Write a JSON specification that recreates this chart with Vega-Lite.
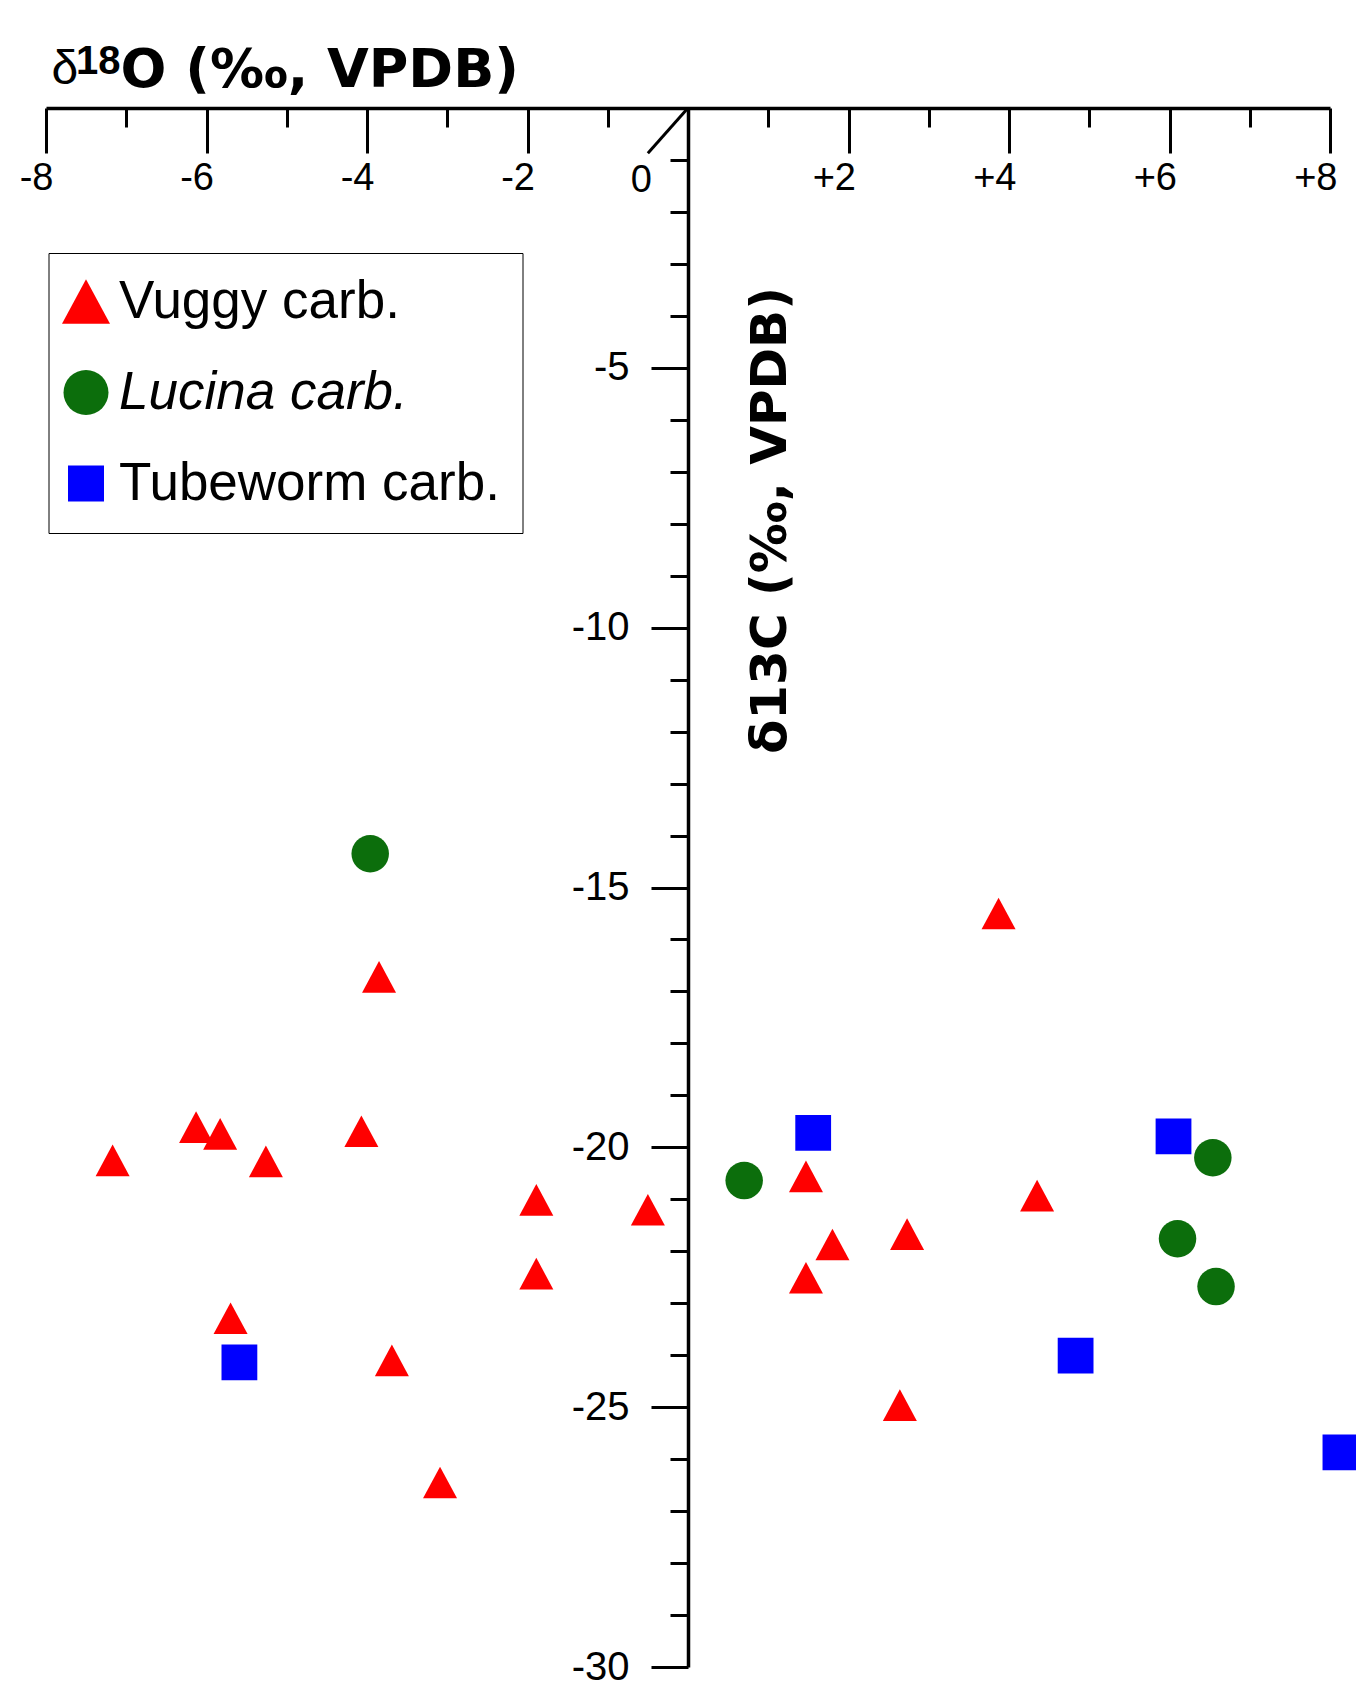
{
  "$schema": "https://vega.github.io/schema/vega-lite/v6.json",
  "width": 1284,
  "height": 1559,
  "autosize": {"type": "none"},
  "padding": {"left": 46, "top": 108, "right": 26, "bottom": 24},
  "background": "white",
  "config": {
    "view": {"stroke": null},
    "axis": {"grid": false, "domainColor": "black", "tickColor": "black", "labelColor": "black", "titleColor": "black", "tickWidth": 3, "domainWidth": 3.5, "labelFlush": false, "labelOverlap": false}
  },
  "data": {
    "values": [
      {"x": -7.17, "y": -20.25, "group": "Vuggy carb."},
      {"x": -6.13, "y": -19.61, "group": "Vuggy carb."},
      {"x": -5.83, "y": -19.74, "group": "Vuggy carb."},
      {"x": -5.26, "y": -20.27, "group": "Vuggy carb."},
      {"x": -4.07, "y": -19.69, "group": "Vuggy carb."},
      {"x": -3.85, "y": -16.72, "group": "Vuggy carb."},
      {"x": -1.89, "y": -21.01, "group": "Vuggy carb."},
      {"x": -1.89, "y": -22.43, "group": "Vuggy carb."},
      {"x": -0.50, "y": -21.20, "group": "Vuggy carb."},
      {"x": -5.70, "y": -23.29, "group": "Vuggy carb."},
      {"x": -3.69, "y": -24.10, "group": "Vuggy carb."},
      {"x": -3.09, "y": -26.45, "group": "Vuggy carb."},
      {"x": 3.87, "y": -15.50, "group": "Vuggy carb."},
      {"x": 1.47, "y": -20.56, "group": "Vuggy carb."},
      {"x": 1.80, "y": -21.87, "group": "Vuggy carb."},
      {"x": 1.47, "y": -22.51, "group": "Vuggy carb."},
      {"x": 2.73, "y": -21.67, "group": "Vuggy carb."},
      {"x": 4.35, "y": -20.93, "group": "Vuggy carb."},
      {"x": 2.64, "y": -24.96, "group": "Vuggy carb."},
      {"x": -3.96, "y": -14.35, "group": "Lucina carb."},
      {"x": 0.70, "y": -20.64, "group": "Lucina carb."},
      {"x": 6.54, "y": -20.20, "group": "Lucina carb."},
      {"x": 6.10, "y": -21.76, "group": "Lucina carb."},
      {"x": 6.58, "y": -22.68, "group": "Lucina carb."},
      {"x": -5.59, "y": -24.14, "group": "Tubeworm carb."},
      {"x": 1.56, "y": -19.72, "group": "Tubeworm carb."},
      {"x": 4.83, "y": -24.01, "group": "Tubeworm carb."},
      {"x": 6.05, "y": -19.79, "group": "Tubeworm carb."},
      {"x": 8.13, "y": -25.87, "group": "Tubeworm carb."}
    ]
  },
  "layer": [
    {
      "mark": {"type": "point", "opacity": 0},
      "encoding": {
        "x": {"field": "x", "type": "quantitative", "scale": {"domain": [-8, 8], "nice": false, "zero": false},
          "axis": {"orient": "bottom", "offset": -1559, "values": [-7, -5, -3, -1, 1, 3, 5, 7], "tickSize": 19, "labels": false, "domain": false,
            "title": "18", "titleFont": "Liberation Sans", "titleFontSize": 40, "titleFontWeight": "bold", "titleAlign": "left", "titleBaseline": "alphabetic", "titleX": 29.5, "titleY": -35}},
        "y": {"field": "y", "type": "quantitative", "scale": {"domain": [-30, 0], "nice": false, "zero": false},
          "axis": {"orient": "left", "offset": -642, "values": [-29, -28, -27, -26, -24, -23, -22, -21, -19, -18, -17, -16, -14, -13, -12, -11, -9, -8, -7, -6, -4, -3, -2, -1], "tickSize": 18, "labels": false, "domain": false, "title": null}}
      }
    },
    {
      "mark": {"type": "point", "opacity": 0},
      "encoding": {
        "x": {"field": "x", "type": "quantitative", "scale": {"domain": [-8, 8], "nice": false, "zero": false},
          "axis": {"orient": "bottom", "offset": -1559, "values": [0], "tickSize": 0, "tickColor": "transparent", "domain": false,
            "labelExpr": "'0'", "labelAlign": "right", "labelBaseline": "alphabetic", "labelOffset": -36.6, "labelPadding": 83, "labelFont": "Liberation Sans", "labelFontSize": 38,
            "title": "O (‰, VPDB)", "titleFont": "DejaVu Sans", "titleFontSize": 54, "titleFontWeight": "bold", "titleAlign": "left", "titleBaseline": "alphabetic", "titleX": 74, "titleY": -22}},
        "y": {"field": "y", "type": "quantitative", "scale": {"domain": [-30, 0], "nice": false, "zero": false}, "axis": null}
      }
    },
    {
      "data": {"values": [{}]},
      "mark": {"type": "rule", "color": "black", "strokeWidth": 3},
      "encoding": {
        "x": {"datum": -0.5, "type": "quantitative", "scale": {"domain": [-8, 8], "nice": false, "zero": false}, "axis": null},
        "y": {"datum": -0.87, "type": "quantitative", "scale": {"domain": [-30, 0], "nice": false, "zero": false}, "axis": null},
        "x2": {"datum": 0},
        "y2": {"datum": 0}
      }
    },
    {
      "mark": {"type": "point", "filled": true, "opacity": 1, "strokeWidth": 0},
      "encoding": {
        "x": {"field": "x", "type": "quantitative", "scale": {"domain": [-8, 8], "nice": false, "zero": false},
          "axis": {"orient": "bottom", "offset": -1559, "values": [-8, -6, -4, -2, 0, 2, 4, 6, 8], "tickSize": 45,
            "labelExpr": "datum.value == 0 ? '' : (datum.value > 0 ? '+' + datum.value : '' + datum.value)",
            "labelAlign": "right", "labelBaseline": "alphabetic", "labelOffset": 7, "labelPadding": 36, "labelFont": "Liberation Sans", "labelFontSize": 38,
            "title": "δ", "titleFont": "Liberation Sans", "titleFontSize": 48, "titleFontWeight": "normal", "titleAlign": "left", "titleBaseline": "alphabetic", "titleX": 5, "titleY": -25}},
        "y": {"field": "y", "type": "quantitative", "scale": {"domain": [-30, 0], "nice": false, "zero": false},
          "axis": {"orient": "left", "offset": -642, "values": [-30, -25, -20, -15, -10, -5], "tickSize": 37,
            "labelExpr": "'' + datum.value", "labelPadding": 22, "labelFont": "Liberation Sans", "labelFontSize": 40, "labelBaseline": "middle",
            "title": "δ13C (‰, VPDB)", "titleFont": "DejaVu Sans", "titleFontSize": 50, "titleFontWeight": "bold", "titleAngle": 270, "titleAlign": "center", "titleBaseline": "alphabetic", "titleX": 97, "titleY": 412}},
        "color": {"field": "group", "type": "nominal",
          "scale": {"domain": ["Vuggy carb.", "Lucina carb.", "Tubeworm carb."], "range": ["#ff0000", "#0c6e0c", "#0000ff"]},
          "legend": {"orient": "none", "legendX": 2.5, "legendY": 145, "direction": "vertical", "title": null,
            "strokeColor": "black", "fillColor": "white", "padding": 22, "cornerRadius": 0, "rowPadding": 37,
            "symbolSize": {"expr": "datum.value == 'Vuggy carb.' ? 2304 : (datum.value == 'Lucina carb.' ? 2025 : 1296)"},
            "symbolOffset": -11, "symbolStrokeWidth": 0, "labelOffset": 6.5,
            "labelFont": "Liberation Sans", "labelFontSize": 53, "labelColor": "black", "labelLimit": 1000,
            "labelFontStyle": {"expr": "datum.value == 'Lucina carb.' ? 'italic' : 'normal'"}}},
        "shape": {"field": "group", "type": "nominal",
          "scale": {"domain": ["Vuggy carb.", "Lucina carb.", "Tubeworm carb."], "range": ["M-1,0.93L1,0.93L0,-0.93Z", "circle", "square"]}},
        "size": {"field": "group", "type": "nominal",
          "scale": {"domain": ["Lucina carb.", "Tubeworm carb.", "Vuggy carb."], "range": [1406, 1156, 1600]}, "legend": null}
      }
    }
  ],
  "resolve": {"axis": {"x": "independent", "y": "independent"}}
}
